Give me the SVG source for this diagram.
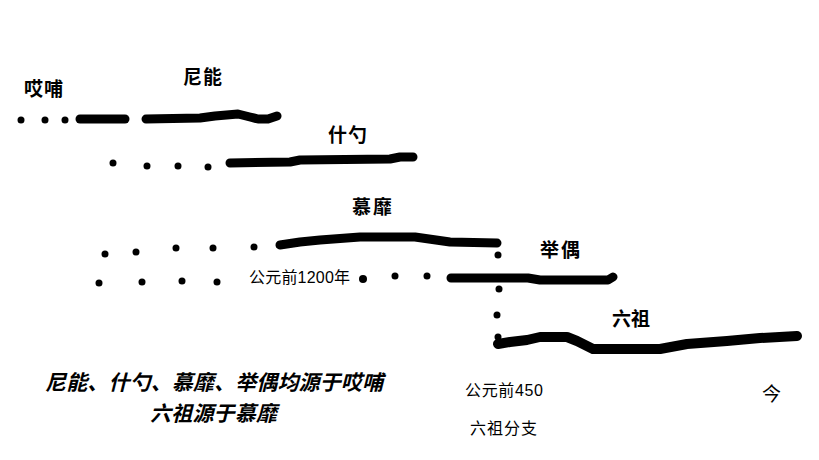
<svg xmlns="http://www.w3.org/2000/svg" width="819" height="460" viewBox="0 0 819 460">
<style>
.bg{fill:#ffffff}
.lbl{font-family:"Noto Sans CJK SC","Liberation Serif",serif;font-weight:bold;font-size:19px;fill:#000}
.txt{font-family:"Liberation Sans","Noto Sans CJK SC",sans-serif;font-size:16px;fill:#000}
.note{font-family:"Noto Sans CJK SC","Liberation Serif",serif;font-weight:bold;font-style:italic;font-size:21px;fill:#000}
.ln{fill:none;stroke:#000;stroke-width:9;stroke-linecap:round;stroke-linejoin:round}
.dot{fill:#000}
</style>
<rect class="bg" x="0" y="0" width="819" height="460"/>

<g id="aibu">
<text class="lbl" x="24" y="96" textLength="39">哎哺</text>
<circle class="dot" cx="21" cy="120" r="3.5"/>
<circle class="dot" cx="45" cy="120" r="3.5"/>
<circle class="dot" cx="65" cy="120" r="3.5"/>
<polyline class="ln" points="80,119 125,119"/>
</g>

<g id="nineng">
<text class="lbl" x="183" y="84" textLength="39">尼能</text>
<polyline class="ln" points="146,119 200,118 215,116 238,114 250,117 258,119 268,119 277,116"/>
</g>

<g id="shishao">
<text class="lbl" x="328" y="142" textLength="39">什勺</text>
<circle class="dot" cx="113" cy="163" r="3.5"/>
<circle class="dot" cx="147" cy="166" r="3.5"/>
<circle class="dot" cx="178" cy="166" r="3.5"/>
<circle class="dot" cx="208" cy="167" r="3.5"/>
<polyline class="ln" points="230,163 290,162 300,160 390,159 400,157 413,157"/>
</g>

<g id="mumi">
<text class="lbl" x="352" y="214" textLength="40">慕靡</text>
<circle class="dot" cx="105" cy="254" r="3.5"/>
<circle class="dot" cx="136" cy="252" r="3.5"/>
<circle class="dot" cx="176" cy="248" r="3.5"/>
<circle class="dot" cx="213" cy="248" r="3.5"/>
<circle class="dot" cx="254" cy="247" r="3.5"/>
<polyline class="ln" points="280,245 300,242 320,240 360,237 415,237 450,242 497,243"/>
</g>

<g id="juou">
<text class="lbl" x="540" y="257" textLength="40">举偶</text>
<circle class="dot" cx="99" cy="283" r="3.5"/>
<circle class="dot" cx="142" cy="282" r="3.5"/>
<circle class="dot" cx="182" cy="281" r="3.5"/>
<circle class="dot" cx="217" cy="282" r="3.5"/>
<text class="txt" x="249" y="283" textLength="101">公元前1200年</text>
<circle class="dot" cx="363" cy="279" r="4"/>
<circle class="dot" cx="395" cy="276" r="3.5"/>
<circle class="dot" cx="427" cy="276" r="3.5"/>
<polyline class="ln" points="451,278 528,278 540,280 608,280 613,277"/>
</g>

<g id="liuzu">
<text class="lbl" x="612" y="326" textLength="38">六祖</text>
<polyline class="ln" style="stroke-width:10" points="498,344 510,342 527,340 540,337 567,337 577,341 593,349 660,349 687,344 727,341 760,338 797,336"/>
<text class="txt" x="465" y="396" textLength="78">公元前450</text>
<text class="lbl" x="762" y="401" style="font-weight:normal">今</text>
<text class="txt" x="470" y="434" textLength="67">六祖分支</text>
</g>

<g id="connectors">
<circle class="dot" cx="498" cy="255" r="3.5"/>
<circle class="dot" cx="499" cy="289" r="3.5"/>
<circle class="dot" cx="497" cy="315" r="3.5"/>
<circle class="dot" cx="498" cy="337" r="3.5"/>
</g>

<g id="notes">
<text class="note" x="45" y="390" textLength="338">尼能、什勺、慕靡、举偶均源于哎哺</text>
<text class="note" x="150" y="421" textLength="127">六祖源于慕靡</text>
</g>
</svg>
